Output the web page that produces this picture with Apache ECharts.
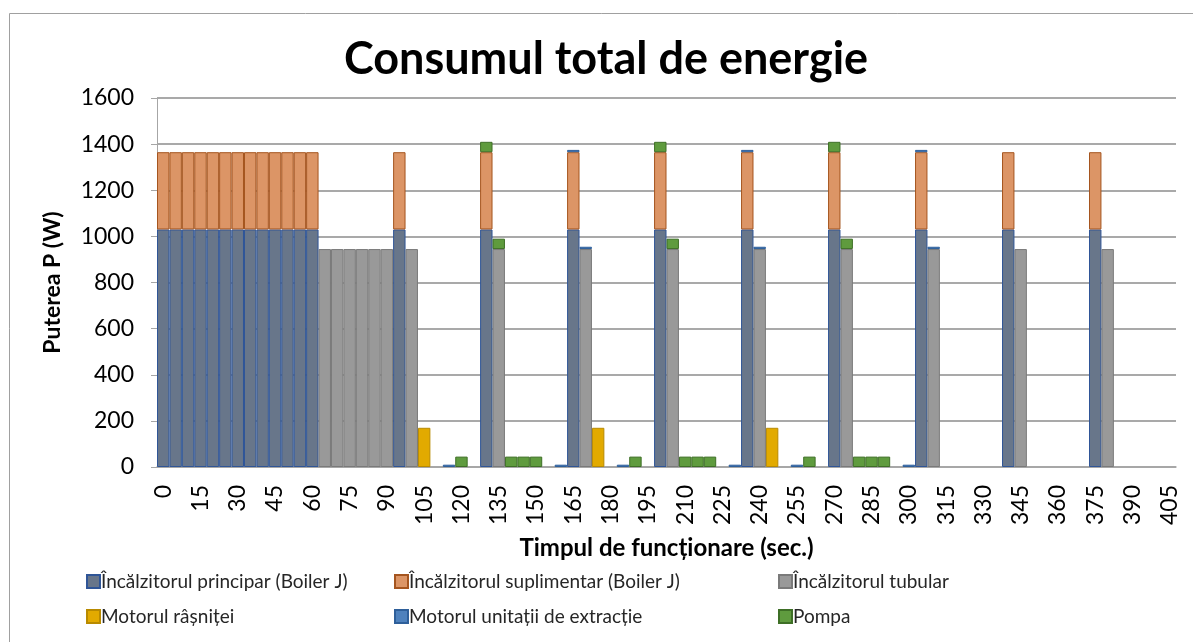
<!DOCTYPE html>
<html>
<head>
<meta charset="utf-8">
<script src="https://cdn.jsdelivr.net/npm/echarts@6/dist/echarts.min.js"></script>
<style>
    html, body { margin: 0; padding: 0; background: #fff; }
    #chart { width: 1193px; height: 642px; }
</style>
</head>
<body>
<div id="chart"></div>
<script>
    // timp (sec.), din 5 in 5 secunde
    const timpi = [
        0, 5, 10, 15, 20, 25, 30, 35, 40, 45,
        50, 55, 60, 65, 70, 75, 80, 85, 90, 95,
        100, 105, 110, 115, 120, 125, 130, 135, 140, 145,
        150, 155, 160, 165, 170, 175, 180, 185, 190, 195,
        200, 205, 210, 215, 220, 225, 230, 235, 240, 245,
        250, 255, 260, 265, 270, 275, 280, 285, 290, 295,
        300, 305, 310, 315, 320, 325, 330, 335, 340, 345,
        350, 355, 360, 365, 370, 375, 380, 385, 390, 395,
        400, 405
    ];

    const incalzitorPrincipal = [
        1030, 1030, 1030, 1030, 1030, 1030, 1030, 1030, 1030, 1030,
        1030, 1030, 1030, 0, 0, 0, 0, 0, 0, 1030,
        0, 0, 0, 0, 0, 0, 1030, 0, 0, 0,
        0, 0, 0, 1030, 0, 0, 0, 0, 0, 0,
        1030, 0, 0, 0, 0, 0, 0, 1030, 0, 0,
        0, 0, 0, 0, 1030, 0, 0, 0, 0, 0,
        0, 1030, 0, 0, 0, 0, 0, 0, 1030, 0,
        0, 0, 0, 0, 0, 1030, 0, 0, 0, 0,
        0, 0
    ];

    const incalzitorSuplimentar = [
        335, 335, 335, 335, 335, 335, 335, 335, 335, 335,
        335, 335, 335, 0, 0, 0, 0, 0, 0, 335,
        0, 0, 0, 0, 0, 0, 335, 0, 0, 0,
        0, 0, 0, 335, 0, 0, 0, 0, 0, 0,
        335, 0, 0, 0, 0, 0, 0, 335, 0, 0,
        0, 0, 0, 0, 335, 0, 0, 0, 0, 0,
        0, 335, 0, 0, 0, 0, 0, 0, 335, 0,
        0, 0, 0, 0, 0, 335, 0, 0, 0, 0,
        0, 0
    ];

    const incalzitorTubular = [
        0, 0, 0, 0, 0, 0, 0, 0, 0, 0,
        0, 0, 0, 945, 945, 945, 945, 945, 945, 0,
        945, 0, 0, 0, 0, 0, 0, 945, 0, 0,
        0, 0, 0, 0, 945, 0, 0, 0, 0, 0,
        0, 945, 0, 0, 0, 0, 0, 0, 945, 0,
        0, 0, 0, 0, 0, 945, 0, 0, 0, 0,
        0, 0, 945, 0, 0, 0, 0, 0, 0, 945,
        0, 0, 0, 0, 0, 0, 945, 0, 0, 0,
        0, 0
    ];

    const motorRasnita = [
        0, 0, 0, 0, 0, 0, 0, 0, 0, 0,
        0, 0, 0, 0, 0, 0, 0, 0, 0, 0,
        0, 170, 0, 0, 0, 0, 0, 0, 0, 0,
        0, 0, 0, 0, 0, 170, 0, 0, 0, 0,
        0, 0, 0, 0, 0, 0, 0, 0, 0, 170,
        0, 0, 0, 0, 0, 0, 0, 0, 0, 0,
        0, 0, 0, 0, 0, 0, 0, 0, 0, 0,
        0, 0, 0, 0, 0, 0, 0, 0, 0, 0,
        0, 0
    ];

    const motorExtractie = [
        0, 0, 0, 0, 0, 0, 0, 0, 0, 0,
        0, 0, 0, 0, 0, 0, 0, 0, 0, 0,
        0, 0, 0, 10, 0, 0, 0, 0, 0, 0,
        0, 0, 10, 10, 10, 0, 0, 10, 0, 0,
        0, 0, 0, 0, 0, 0, 10, 10, 10, 0,
        0, 10, 0, 0, 0, 0, 0, 0, 0, 0,
        10, 10, 10, 0, 0, 0, 0, 0, 0, 0,
        0, 0, 0, 0, 0, 0, 0, 0, 0, 0,
        0, 0
    ];

    const pompa = [
        0, 0, 0, 0, 0, 0, 0, 0, 0, 0,
        0, 0, 0, 0, 0, 0, 0, 0, 0, 0,
        0, 0, 0, 0, 45, 0, 45, 45, 45, 45,
        45, 0, 0, 0, 0, 0, 0, 0, 45, 0,
        45, 45, 45, 45, 45, 0, 0, 0, 0, 0,
        0, 0, 45, 0, 45, 45, 45, 45, 45, 0,
        0, 0, 0, 0, 0, 0, 0, 0, 0, 0,
        0, 0, 0, 0, 0, 0, 0, 0, 0, 0,
        0, 0
    ];

    const numeSerii = [
        'Încălzitorul principar (Boiler J)',
        'Încălzitorul suplimentar (Boiler J)',
        'Încălzitorul tubular',
        'Motorul râșniței',
        'Motorul unitații de extracție',
        'Pompa'
    ];
    const culori = ['#68768A', '#DC9566', '#999999', '#E2AA00', '#4E81BD', '#5F9B3E'];
    const contururi = ['#2F5597', '#A5551F', '#7A7A7A', '#B88A00', '#2E5F9A', '#3E6F26'];
    const valori = [incalzitorPrincipal, incalzitorSuplimentar, incalzitorTubular, motorRasnita, motorExtractie, pompa];

    const font = 'Lato, "Open Sans", sans-serif';
    const chart = echarts.init(document.getElementById('chart'));

    function legenda (left, names) {
        return {
            orient: 'vertical',
            left: left,
            top: 567,
            itemWidth: 13,
            itemHeight: 13,
            itemGap: 16,
            icon: 'rect',
            data: names,
            textStyle: { fontFamily: font, fontSize: 19, color: '#262626', padding: [0, 0, 0, -4] },
            selectedMode: false
        };
    }

    chart.setOption({
        animation: false,
        backgroundColor: '#fff',
        title: {
            text: 'Consumul total de energie',
            left: 601,
            textAlign: 'center',
            top: 32,
            textStyle: { fontFamily: font, fontSize: 45, fontWeight: 'bold', color: '#000' }
        },
        graphic: [{
            type: 'rect',
            shape: { x: 9.5, y: 13.5, width: 1300, height: 800 },
            style: { fill: 'none', stroke: '#A0A0A0', lineWidth: 1 },
            silent: true
        }],
        legend: [
            legenda(81, [numeSerii[0], numeSerii[3]]),
            legenda(389, [numeSerii[1], numeSerii[4]]),
            legenda(773, [numeSerii[2], numeSerii[5]])
        ],
        grid: { left: 157, right: 17, top: 98, bottom: 175 },
        xAxis: {
            type: 'category',
            data: timpi,
            name: 'Timpul de funcționare (sec.)',
            nameLocation: 'middle',
            nameGap: 69,
            nameTextStyle: { fontFamily: font, fontSize: 24, fontWeight: 'bold', color: '#000' },
            axisLine: { lineStyle: { color: '#A6A6A6', width: 1.5 } },
            axisTick: { interval: 0, length: 6, lineStyle: { color: '#A6A6A6' } },
            axisLabel: {
                interval: 2,
                rotate: 90,
                margin: 18,
                fontFamily: font,
                fontSize: 23,
                color: '#000'
            }
        },
        yAxis: {
            type: 'value',
            min: 0,
            max: 1600,
            interval: 200,
            name: 'Puterea P (W)',
            nameLocation: 'middle',
            nameGap: 93,
            nameTextStyle: { fontFamily: font, fontSize: 23, fontWeight: 'bold', color: '#000' },
            axisLine: { show: true, lineStyle: { color: '#A6A6A6' } },
            axisTick: { show: true, length: 6, lineStyle: { color: '#A6A6A6' } },
            axisLabel: { fontFamily: font, fontSize: 23, color: '#000', margin: 23, formatter: v => String(v) },
            splitLine: { lineStyle: { color: '#8C8C8C', width: 1.5 } }
        },
        series: valori.map((v, k) => ({
            name: numeSerii[k],
            type: 'bar',
            stack: 'total',
            barCategoryGap: 0,
            data: v.map(x => x || '-'),
            itemStyle: { color: culori[k], borderColor: contururi[k], borderWidth: 1, opacity: 1 }
        })),
        color: culori
    });
</script>
</body>
</html>
